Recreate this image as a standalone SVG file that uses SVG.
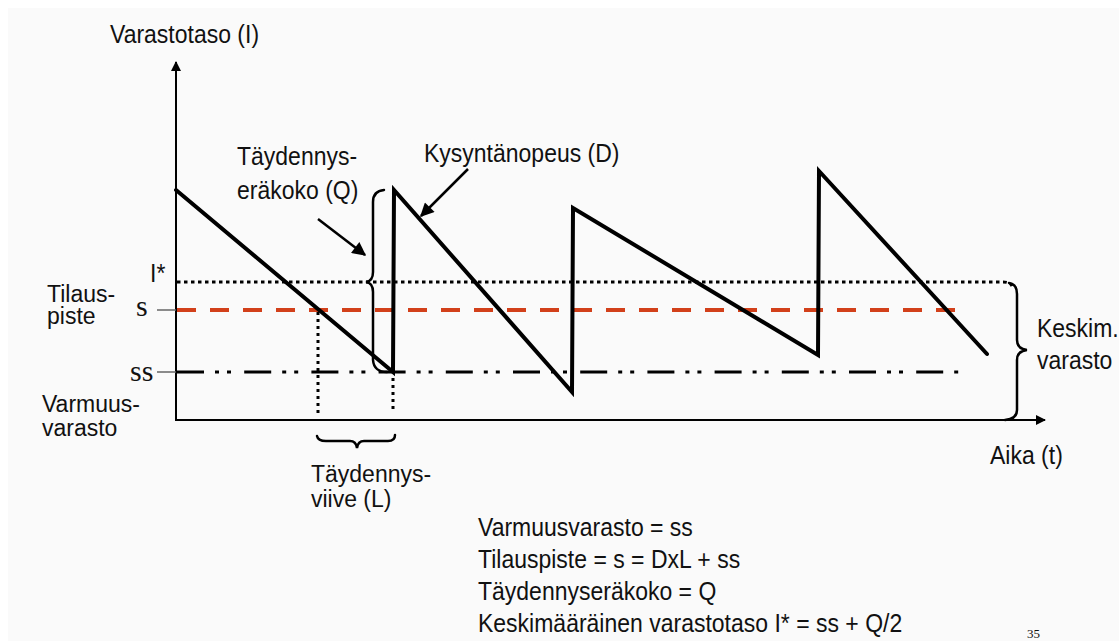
<svg xmlns="http://www.w3.org/2000/svg" width="1119" height="641" viewBox="0 0 1119 641">
  <style>
    .lbl { font-family: "Liberation Sans", Arial, sans-serif; font-size: 23px; fill: #111; }
    .ser { font-family: "Liberation Serif", "Times New Roman", serif; fill: #111; }
    .axis { stroke: #000; stroke-width: 2; fill: none; }
    .saw { stroke: #000; stroke-width: 4; fill: none; stroke-linejoin: miter; stroke-linecap: round; }
    .brace { stroke: #000; stroke-width: 2.5; fill: none; stroke-linecap: round; }
    .dot { stroke: #000; stroke-width: 3; fill: none; stroke-dasharray: 3 4; }
    .tick { stroke: #666; stroke-width: 1.5; }
  </style>
  <defs>
    <marker id="arr" viewBox="0 0 10 10" refX="9" refY="5" markerWidth="6" markerHeight="5.5" orient="auto" markerUnits="strokeWidth">
      <path d="M0,0 L10,5 L0,10 Z" fill="#000"/>
    </marker>
    <marker id="arrAx" viewBox="0 0 10 10" refX="9" refY="5" markerWidth="6" markerHeight="5" orient="auto" markerUnits="strokeWidth">
      <path d="M0,0 L10,5 L0,10 Z" fill="#000"/>
    </marker>
  </defs>

  <rect x="0" y="0" width="1119" height="641" fill="#ffffff"/>
  <rect x="8" y="8" width="1111" height="633" fill="#fafafa"/>

  <!-- axes -->
  <g id="axes">
    <line class="axis" x1="176" y1="420" x2="176" y2="62" marker-end="url(#arrAx)"/>
    <line class="axis" x1="175" y1="420" x2="1045" y2="420" marker-end="url(#arrAx)"/>
    <line class="tick" x1="157" y1="310" x2="176" y2="310"/>
    <line class="tick" x1="157" y1="372" x2="176" y2="372"/>
  </g>

  <!-- reference levels -->
  <g id="levels">
    <path d="M177,282 H1003 Q1010,282 1012,286" stroke="#000" stroke-width="3" fill="none" stroke-dasharray="3.5 3.5"/>
    <line x1="177" y1="310" x2="955" y2="310" stroke="#d2401a" stroke-width="4" stroke-dasharray="19 14"/>
    <line x1="177" y1="372" x2="960" y2="372" stroke="#000" stroke-width="3" stroke-dasharray="27 11 4 8 4 13.2"/>
  </g>

  <!-- lead time markers -->
  <g id="leadtime">
    <line class="dot" x1="318" y1="312" x2="318" y2="413"/>
    <line class="dot" x1="393" y1="378" x2="393" y2="413"/>
  </g>

  <!-- inventory sawtooth -->
  <g id="sawtooth">
    <polyline class="saw" points="176,190 393,372 394,190 572,392 573,208 818,355 819,171 987,354"/>
  </g>

  <!-- braces -->
  <g id="braces">
    <path class="brace" d="M384,190 Q373,191 373,202 V272 Q373,281 366,282 Q373,283 373,292 V360 Q374,372 387,372"/>
    <path class="brace" d="M317,436 Q318,441 326,441 H350 Q356,441 357,448 Q358,441 364,441 H388 Q395,441 395,435"/>
    <path class="brace" d="M1009,283 Q1017,284 1017,294 V340 Q1017,349 1027,350 Q1017,351 1017,360 V410 Q1017,419 1005,420"/>
  </g>

  <!-- connectors -->
  <g id="connectors">
    <line x1="318" y1="219" x2="365" y2="255" stroke="#000" stroke-width="2.5" marker-end="url(#arr)"/>
    <line x1="468" y1="169" x2="421" y2="216" stroke="#000" stroke-width="2.5" marker-end="url(#arr)"/>
  </g>

  <!-- labels -->
  <g id="label-yaxis"><text class="lbl" transform="translate(110 43) scale(1 1.12)">Varastotaso (I)</text></g>
  <g id="label-q">
    <text class="lbl" transform="translate(237 165) scale(1 1.12)">Täydennys-</text>
    <text class="lbl" transform="translate(237 199) scale(1 1.12)">eräkoko (Q)</text>
  </g>
  <g id="label-d"><text class="lbl" transform="translate(424 162) scale(1 1.12)">Kysyntänopeus (D)</text></g>
  <g id="label-istar"><text class="lbl" transform="translate(150 282) scale(1 1.12)">I*</text></g>
  <g id="label-tilauspiste">
    <text class="lbl" transform="translate(47 302) scale(1 1.08)">Tilaus-</text>
    <text class="lbl" transform="translate(47 324) scale(1 1.08)">piste</text>
  </g>
  <g id="label-s"><text class="ser" font-size="30" x="136" y="316">s</text></g>
  <g id="label-ss"><text class="ser" font-size="30" x="130" y="381">ss</text></g>
  <g id="label-varmuus">
    <text class="lbl" transform="translate(42 412) scale(1 1.08)">Varmuus-</text>
    <text class="lbl" transform="translate(42 436) scale(1 1.08)">varasto</text>
  </g>
  <g id="label-l">
    <text class="lbl" transform="translate(311 482) scale(1 1.08)">Täydennys-</text>
    <text class="lbl" transform="translate(311 507) scale(1 1.08)">viive (L)</text>
  </g>
  <g id="label-keskim">
    <text class="lbl" transform="translate(1037 337) scale(1 1.12)">Keskim.</text>
    <text class="lbl" transform="translate(1037 369) scale(1 1.12)">varasto</text>
  </g>
  <g id="label-xaxis"><text class="lbl" transform="translate(990 464) scale(1 1.12)">Aika (t)</text></g>

  <g id="formulas">
    <text class="lbl" transform="translate(478 536) scale(1 1.12)">Varmuusvarasto = ss</text>
    <text class="lbl" transform="translate(478 568) scale(1 1.12)">Tilauspiste = s = DxL + ss</text>
    <text class="lbl" transform="translate(478 600) scale(1 1.12)">Täydennyseräkoko = Q</text>
    <text class="lbl" transform="translate(478 632) scale(1 1.12)">Keskimääräinen varastotaso I* = ss + Q/2</text>
  </g>
  <g id="page-number"><text class="ser" font-size="13" x="1027" y="638">35</text></g>
</svg>
